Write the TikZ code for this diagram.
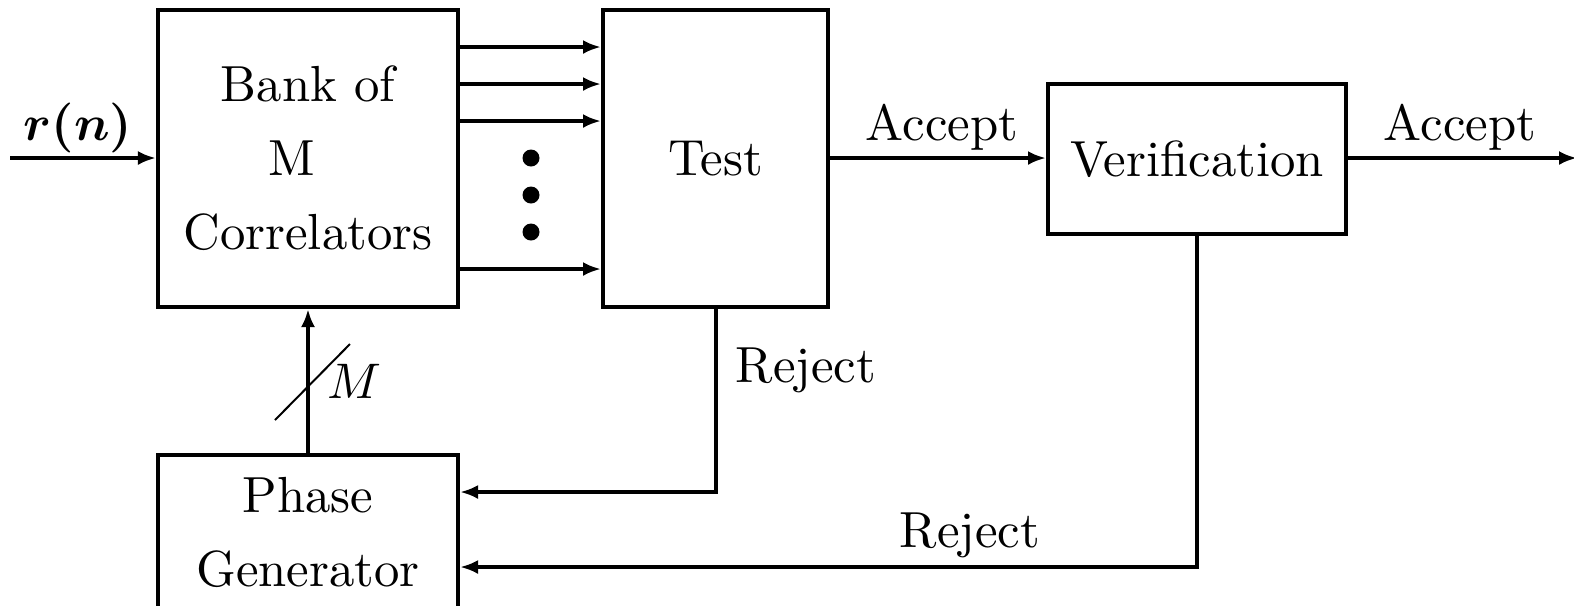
\documentclass[tikz,border=0pt]{standalone}
\usepackage{bm}
\usetikzlibrary{arrows.meta}
\begin{document}
\begin{tikzpicture}[x=0.2pt,y=-0.2pt,
  blk/.style={draw,line width=0.8pt,inner sep=0pt,align=center,font=\fontsize{10.15}{14.8}\selectfont},
  arr/.style={line width=0.8pt,-{Latex[length=3.6pt,width=2.8pt]}},
  conn/.style={line width=0.8pt},
  lbl/.style={inner sep=0pt,anchor=base,font=\fontsize{10.15}{12}\selectfont},
  dot/.style={circle,fill,inner sep=0pt,minimum size=3.4pt}]
\useasboundingbox (0,0) rectangle (1574,605);
% blocks
\node[blk,minimum width=60pt,minimum height=59.4pt] (bank) at (308,158.5) {Bank of\\M\makebox[6.5pt]{}\\Correlators};
\node[blk,minimum width=45pt,minimum height=59.4pt] (test) at (715.5,158.5) {Test};
\node[blk,minimum width=59.6pt,minimum height=30pt] (ver) at (1197,159) {Verification};
\node[blk,minimum width=60pt,minimum height=30.8pt] (phase) at (308,532) {Phase\\Generator};
% input / output
\coordinate (in) at (10,158);
\coordinate (out) at (1577,158);
\draw[arr] (in) -- (in -| bank.west);
\node[lbl] (rn) at (78,140) {$\bm{r(n)}$};
% bank to test
\foreach \yy/\nm in {47/a,84/b,121/c,269/d} {
  \coordinate (s\nm) at (bank.east |- 0,\yy);
  \draw[arr] (s\nm) -- (s\nm -| test.west);
}
\node[dot] (d1) at (531,158) {};
\node[dot] (d2) at (531,195) {};
\node[dot] (d3) at (531,232) {};
% test to verification
\draw[arr] (test.east |- 0,158) -- (ver.west |- 0,158);
\node[lbl] (acc1) at (942,140) {Accept};
\draw[arr] (ver.east |- 0,158) -- (out);
\node[lbl] (acc2) at (1460,140) {Accept};
% phase to bank
\draw[arr] (phase.north) -- (bank.south);
\coordinate (sl1) at (275,420);
\coordinate (sl2) at (350,344);
\draw[line width=0.4pt] (sl1) -- (sl2);
\node[lbl] (mlbl) at (354,398) {$M$};
% rejects
\coordinate (r1) at (test.south |- 0,492);
\draw[arr] (test.south) -- (r1) -- (r1 -| phase.east);
\node[lbl] (rej1) at (806,382) {Reject};
\coordinate (r2) at (ver.south |- 0,567);
\draw[arr] (ver.south) -- (r2) -- (r2 -| phase.east);
\node[lbl] (rej2) at (970,547) {Reject};
\end{tikzpicture}
\end{document}
